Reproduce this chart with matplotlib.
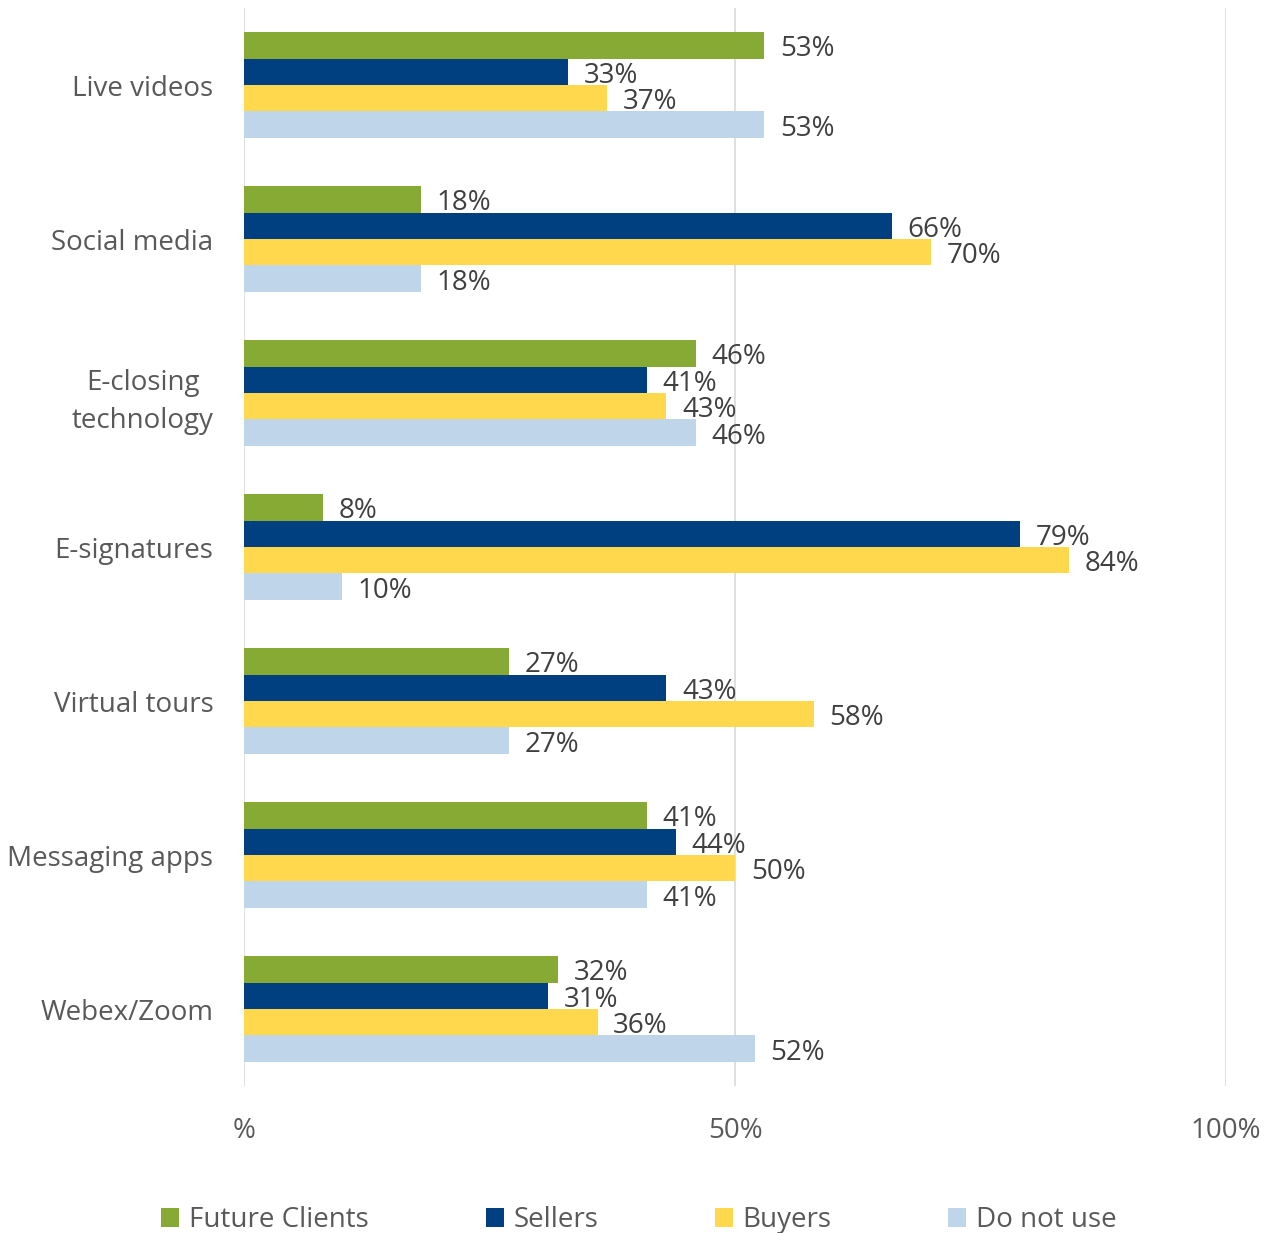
import matplotlib.pyplot as plt
from matplotlib.patches import Patch
import numpy as np

plt.rcParams["font.family"] = ["Open Sans", "DejaVu Sans"]

# categories, top to bottom
categories = ["Live videos", "Social media", "E-closing\ntechnology", "E-signatures",
              "Virtual tours", "Messaging apps", "Webex/Zoom"]
series_names = ["Future Clients", "Sellers", "Buyers", "Do not use"]
future_clients = [53, 18, 46, 8, 27, 41, 32]
sellers = [33, 66, 41, 79, 43, 44, 31]
buyers = [37, 70, 43, 84, 58, 50, 36]
do_not_use = [53, 18, 46, 10, 27, 41, 52]
x_ticks = [0, 50, 100]
x_tick_labels = ["%", "50%", "100%"]

colors = ["#86AA34", "#004080", "#FFD84D", "#BFD6EA"]

fig = plt.figure(figsize=(12.78, 12.33), dpi=100)
ax = fig.add_axes([244 / 1278, 1 - 1086 / 1233, 982 / 1278, 1078 / 1233])

y = np.arange(len(categories))
bar_h = 0.172
offsets = [-0.258, -0.086, 0.086, 0.258]
all_series = [future_clients, sellers, buyers, do_not_use]

for vals, off, col in zip(all_series, offsets, colors):
    bars = ax.barh(y + off, vals, height=bar_h, color=col, zorder=2)
    for b, v in zip(bars, vals):
        ax.text(v + 1.6, b.get_y() + b.get_height() / 2 + 0.025, f"{v}%", va="center", ha="left",
                fontsize=20, color="#404040")

ax.set_ylim(len(categories) - 0.5, -0.5)
ax.set_xlim(0, 100)
ax.set_yticks(y)
ax.set_yticklabels(categories, fontsize=20, color="#595959", multialignment="center",
                   linespacing=1.5)
ax.set_xticks(x_ticks)
ax.set_xticklabels(x_tick_labels, fontsize=20, color="#595959")
ax.tick_params(axis="both", length=0)
ax.tick_params(axis="y", pad=22)
ax.tick_params(axis="x", pad=22)
ax.grid(axis="x", color="#D9D9D9", linewidth=1.2, zorder=0)
for s in ax.spines.values():
    s.set_visible(False)

handles = [Patch(facecolor=c, label=n) for c, n in zip(colors, series_names)]
leg = fig.legend(handles=handles, loc="center", bbox_to_anchor=(0.5, 1 - 1220 / 1233), ncol=4,
                 frameon=False, fontsize=20, handlelength=0.65, handleheight=0.65,
                 handletextpad=0.35, columnspacing=4.2)
for t in leg.get_texts():
    t.set_color("#595959")

fig.savefig("out.png", dpi=100)
